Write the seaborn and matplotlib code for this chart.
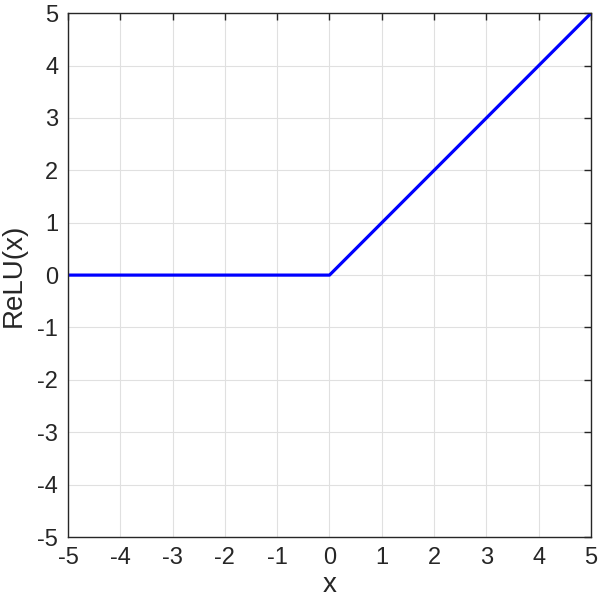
import matplotlib
matplotlib.use("Agg")
import matplotlib.pyplot as plt
import seaborn as sns
import pandas as pd

# ReLU breakpoints
x_vals = [-5, 0, 5]
relu_vals = [0, 0, 5]
ticks = list(range(-5, 6))

sns.set_style("white")
plt.rcParams['font.family'] = ['Liberation Sans', 'DejaVu Sans']
plt.rcParams['axes.unicode_minus'] = False

data = pd.DataFrame({"x": x_vals, "ReLU(x)": relu_vals})

fig = plt.figure(figsize=(6.01, 6.00), dpi=100)
ax = fig.add_axes([0.1131, 0.105, 0.8703, 0.873])
sns.lineplot(data=data, x="x", y="ReLU(x)", color="#0000ff", linewidth=2.3, ax=ax)

ax.set_xlim(-5, 5)
ax.set_ylim(-5, 5)
ax.set_xticks(ticks)
ax.set_yticks(ticks)
ax.grid(True, color="#e0e0e0", linewidth=0.8)
ax.set_axisbelow(True)
for s in ax.spines.values():
    s.set_visible(True)
    s.set_color("#262626")
    s.set_linewidth(1.0)
ax.tick_params(direction="in", length=5, width=1, color="#262626",
               top=True, right=True, labelsize=17, labelcolor="#262626", pad=7)
ax.set_xlabel("x", fontsize=20, color="#262626", labelpad=2)
ax.set_ylabel("ReLU(x)", fontsize=20, color="#262626", labelpad=8)

fig.savefig("out.png", dpi=100)
